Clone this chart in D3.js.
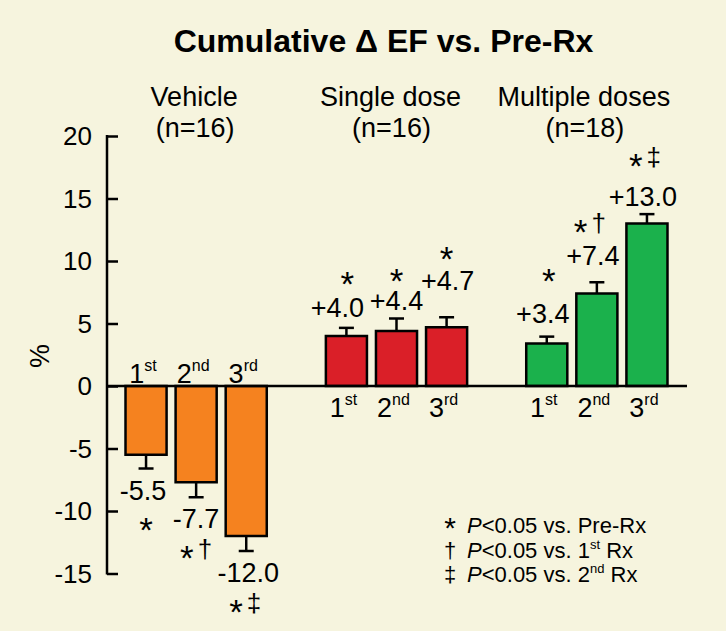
<!DOCTYPE html>
<html>
<head>
<meta charset="utf-8">
<script src="https://cdn.jsdelivr.net/npm/d3@7"></script>
<style>
  html, body { margin: 0; padding: 0; background: #F6F4DE; }
  svg { display: block; }
  text { font-family: "Liberation Sans", Arial, sans-serif; fill: #000; }
</style>
</head>
<body>
<svg id="chart" width="726" height="631"></svg>
<script>
// ---------------- data ----------------
const groups = ["Vehicle", "Single dose", "Multiple doses"];
const groupN = ["(n=16)", "(n=16)", "(n=18)"];
const doses = ["1", "2", "3"];
const doseSuffix = ["st", "nd", "rd"];

const vehicleValues  = [-5.5, -7.7, -12.0];
const vehicleSEM     = [1.1, 1.2, 1.2];
const singleValues   = [4.0, 4.4, 4.7];
const singleSEM      = [0.65, 1.0, 0.8];
const multipleValues = [3.4, 7.4, 13.0];
const multipleSEM    = [0.55, 0.9, 0.75];

const vehicleLabels  = ["-5.5", "-7.7", "-12.0"];
const singleLabels   = ["+4.0", "+4.4", "+4.7"];
const multipleLabels = ["+3.4", "+7.4", "+13.0"];

const vehicleSig  = ["", "†", "‡"];
const singleSig   = ["", "", ""];
const multipleSig = ["", "†", "‡"];

const yTicks = [20, 15, 10, 5, 0, -5, -10, -15];
const title = "Cumulative \u0394 EF vs. Pre-Rx";
const legendSymbols = ["*", "†", "‡"];
const legendTexts = [["vs. Pre-Rx", null], ["vs. 1", "st"], ["vs. 2", "nd"]];

// ---------------- layout ----------------
const colors = ["#F5821F", "#DA1F28", "#1BB14C"];
// small annotation nudges (pixels) for value labels / significance marks
const labelLift = [[0, 0, 0], [11, 9, 27], [14, 17, 8]];
const labelShiftX = [[-3, 0, 2], [-9, 0, 1], [-4, -4, -4]];
const markLift = [[0, 0, 0], [42, 38, 40], [51, 42, 49]];
const markShiftX = [[0, 0, -1], [1, 0, 0], [2, -7, -2]];

const svg = d3.select("#chart");
svg.append("rect").attr("width", 726).attr("height", 631).attr("fill", "#F6F4DE");

const y = d3.scaleLinear().domain([-15, 20]).range([573.5, 136]);
const xGroup = d3.scaleBand().domain(groups).range([121, 672]).paddingInner(0.25).paddingOuter(0);
const xDose = d3.scaleBand().domain(doses).range([0, xGroup.bandwidth()]).paddingInner(0.18).paddingOuter(0.09);

const table = groups.map((g, gi) => {
  const vals = [vehicleValues, singleValues, multipleValues][gi];
  const sems = [vehicleSEM, singleSEM, multipleSEM][gi];
  const labs = [vehicleLabels, singleLabels, multipleLabels][gi];
  const sigs = [vehicleSig, singleSig, multipleSig][gi];
  return doses.map((d, di) => ({ g, gi, d, di, v: vals[di], sem: sems[di], label: labs[di], sig: sigs[di] }));
}).flat();

const cx = r => xGroup(r.g) + xDose(r.d) + xDose.bandwidth() / 2;

// title
svg.append("text").attr("x", 383.5).attr("y", 52).attr("text-anchor", "middle")
  .attr("font-size", 32).attr("font-weight", "bold").text(title);

// group labels
const groupLabelX = [-2, -6, -13];
groups.forEach((g, gi) => {
  const c = xGroup(g) + xGroup.bandwidth() / 2;
  svg.append("text").attr("x", c + groupLabelX[gi]).attr("y", 106).attr("text-anchor", "middle")
    .attr("font-size", 27).text(g);
  svg.append("text").attr("x", c + groupLabelX[gi] + 1).attr("y", 137).attr("text-anchor", "middle")
    .attr("font-size", 27).text(groupN[gi]);
});

// y axis
const yAxis = d3.axisRight(y).tickValues(yTicks).tickSize(11).tickFormat("");
const ag = svg.append("g").attr("transform", "translate(107,0)").call(yAxis);
ag.select(".domain").remove();
ag.selectAll(".tick line").attr("stroke", "#000").attr("stroke-width", 2.5);
ag.append("line").attr("x1", 0).attr("x2", 0).attr("y1", y(20) - 1).attr("y2", y(-15) + 1)
  .attr("stroke", "#000").attr("stroke-width", 2.5);
svg.append("g").selectAll("text").data(yTicks).join("text")
  .attr("x", 92).attr("y", d => y(d)).attr("dy", "0.35em").attr("text-anchor", "end")
  .attr("font-size", 26).text(d => d);

svg.append("text").attr("transform", "translate(49,356) rotate(-90)").attr("text-anchor", "middle")
  .attr("font-size", 27).text("%");

// bars
svg.append("g").selectAll("rect").data(table).join("rect")
  .attr("x", r => xGroup(r.g) + xDose(r.d))
  .attr("width", xDose.bandwidth())
  .attr("y", r => y(Math.max(0, r.v)))
  .attr("height", r => Math.abs(y(r.v) - y(0)))
  .attr("fill", r => colors[r.gi]).attr("stroke", "#000").attr("stroke-width", 2.5);

// error bars
const eg = svg.append("g").attr("stroke", "#000").attr("stroke-width", 2.5);
table.forEach(r => {
  const end = r.v < 0 ? r.v - r.sem : r.v + r.sem;
  eg.append("line").attr("x1", cx(r)).attr("x2", cx(r)).attr("y1", y(r.v)).attr("y2", y(end));
  eg.append("line").attr("x1", cx(r) - 7.5).attr("x2", cx(r) + 7.5).attr("y1", y(end)).attr("y2", y(end));
});

// zero baseline
svg.append("line").attr("x1", 107).attr("x2", 687).attr("y1", y(0)).attr("y2", y(0))
  .attr("stroke", "#000").attr("stroke-width", 2.5);

// ordinal labels
table.forEach(r => {
  const t = svg.append("text").attr("x", cx(r) - 3).attr("y", r.v < 0 ? y(0) - 3 : y(0) + 31)
    .attr("text-anchor", "middle").attr("font-size", 27);
  t.append("tspan").text(r.d);
  t.append("tspan").attr("font-size", 16).attr("dy", -12).text(doseSuffix[r.di]);
});

// value labels and significance marks
function mark(x, yb, sig) {
  const t = svg.append("text").attr("x", x).attr("y", yb).attr("text-anchor", "middle").attr("font-size", 26);
  t.append("tspan").attr("font-size", 35).attr("dy", 12).text("*");
  if (sig) t.append("tspan").attr("dy", -12).attr("dx", 4).text(sig);
}
table.forEach(r => {
  const end = r.v < 0 ? r.v - r.sem : r.v + r.sem;
  let lb;
  if (r.v < 0) lb = y(end) + 31;
  else lb = y(end) - labelLift[r.gi][r.di];
  svg.append("text").attr("x", cx(r) + labelShiftX[r.gi][r.di]).attr("y", lb)
    .attr("text-anchor", "middle").attr("font-size", 27).text(r.label);
  const mb = r.v < 0 ? lb + 30 : lb - markLift[r.gi][r.di] + 9;
  mark(cx(r) + markShiftX[r.gi][r.di], mb, r.sig);
});

// legend
legendSymbols.forEach((s, i) => {
  const yb = 533 + i * 24.5;
  svg.append("text").attr("x", 450).attr("y", yb + (i === 0 ? 5 : 0)).attr("text-anchor", "middle")
    .attr("font-size", i === 0 ? 30 : 22).text(s);
  const t = svg.append("text").attr("x", 467).attr("y", yb).attr("font-size", 22);
  t.append("tspan").attr("font-style", "italic").text("P");
  t.append("tspan").text("<0.05 " + legendTexts[i][0]);
  if (legendTexts[i][1]) {
    t.append("tspan").attr("font-size", 13).attr("dy", -9).text(legendTexts[i][1]);
    t.append("tspan").attr("dy", 9).text(" Rx");
  }
});
</script>
</body>
</html>
